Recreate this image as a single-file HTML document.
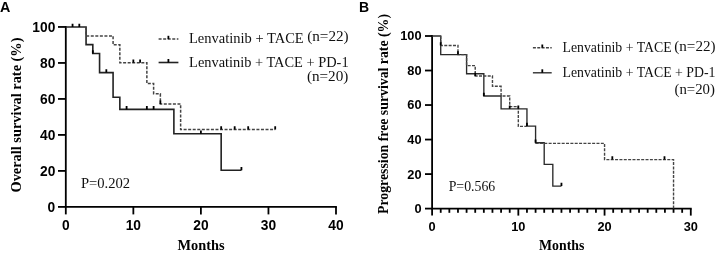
<!DOCTYPE html>
<html><head><meta charset="utf-8"><style>
html,body{margin:0;padding:0;background:#fff;}
body{width:717px;height:253px;overflow:hidden;}
svg{display:block;will-change:transform;}
.ax{stroke:#000;stroke-width:1.8;fill:none;}
.sol{stroke:#222;stroke-width:1.6;fill:none;}
.solb{stroke:#2a2a2a;stroke-width:1.35;fill:none;}
.dsh{stroke:#444;stroke-width:1.5;fill:none;stroke-dasharray:3.0 1.55;}
.dshb{stroke:#444;stroke-width:1.4;fill:none;stroke-dasharray:3.0 1.35;}
.tk{stroke:#000;stroke-width:1.8;fill:none;}
.tl{font-family:"Liberation Sans",sans-serif;font-weight:bold;font-size:13.8px;fill:#000;}
.tlb{font-family:"Liberation Sans",sans-serif;font-weight:bold;font-size:12.8px;fill:#000;}
.lg{font-family:"Liberation Serif",serif;font-size:14.4px;fill:#111;}
.lgb{font-family:"Liberation Serif",serif;font-size:13.8px;fill:#111;}
.lab{font-family:"Liberation Serif",serif;font-weight:bold;font-size:14.35px;fill:#000;}
.labb{font-family:"Liberation Serif",serif;font-weight:bold;font-size:13.8px;fill:#000;}
</style></head><body>
<svg width="717" height="253" viewBox="0 0 717 253">
<text x="-0.1" y="11.7" font-family="Liberation Sans" font-weight="bold" font-size="14.3">A</text>
<text x="358.9" y="11.7" font-family="Liberation Sans" font-weight="bold" font-size="14">B</text>
<path d="M65.8,25.95V206.9H336.90" class="ax"/>
<path d="M58.0,206.90H65.8" class="ax"/>
<text transform="translate(55.3,211.65) scale(1,1.07)" class="tl" text-anchor="end">0</text>
<path d="M58.0,170.91H65.8" class="ax"/>
<text transform="translate(55.3,175.66) scale(1,1.07)" class="tl" text-anchor="end">20</text>
<path d="M58.0,134.92H65.8" class="ax"/>
<text transform="translate(55.3,139.67) scale(1,1.07)" class="tl" text-anchor="end">40</text>
<path d="M58.0,98.93H65.8" class="ax"/>
<text transform="translate(55.3,103.68) scale(1,1.07)" class="tl" text-anchor="end">60</text>
<path d="M58.0,62.94H65.8" class="ax"/>
<text transform="translate(55.3,67.69) scale(1,1.07)" class="tl" text-anchor="end">80</text>
<path d="M58.0,26.95H65.8" class="ax"/>
<text transform="translate(55.3,31.70) scale(1,1.07)" class="tl" text-anchor="end">100</text>
<path d="M65.80,206.9V214.4" class="ax"/>
<text transform="translate(65.80,230.0) scale(1,1.07)" class="tl" text-anchor="middle">0</text>
<path d="M133.35,206.9V214.4" class="ax"/>
<text transform="translate(133.35,230.0) scale(1,1.07)" class="tl" text-anchor="middle">10</text>
<path d="M200.90,206.9V214.4" class="ax"/>
<text transform="translate(200.90,230.0) scale(1,1.07)" class="tl" text-anchor="middle">20</text>
<path d="M268.45,206.9V214.4" class="ax"/>
<text transform="translate(268.45,230.0) scale(1,1.07)" class="tl" text-anchor="middle">30</text>
<path d="M336.00,206.9V214.4" class="ax"/>
<text transform="translate(336.00,230.0) scale(1,1.07)" class="tl" text-anchor="middle">40</text>
<text transform="translate(21,115) rotate(-90)" text-anchor="middle" class="lab">Overall survival rate (%)</text>
<text x="201" y="249.6" text-anchor="middle" class="lab">Months</text>
<text x="80.9" y="188.4" class="lg" style="font-size:14.6px">P=0.202</text>
<path d="M65.80,26.95H86.06V44.60H92.82V53.50H99.57V72.60H113.08V97.20H119.84V109.40H173.88V133.80H221.17V170.20H241.43" class="sol"/>
<path d="M86.06,26.95V35.9H113.08V44.80H119.84V62.70H146.86V83.50H153.62V93.80H160.37V103.90H180.63V129.60H275.20" class="dsh"/>
<path d="M72.55,26.95V23.65M79.31,26.95V23.65M92.82,53.50V50.20M106.33,72.60V69.30M126.59,109.40V106.10M146.86,109.40V106.10M153.62,109.40V106.10M200.90,133.80V130.50M241.43,170.20V166.90M133.35,62.70V59.40M140.10,62.70V59.40M160.37,103.90V100.60M221.17,129.60V126.30M234.68,129.60V126.30M248.19,129.60V126.30M275.20,129.60V126.30" class="tk"/>
<path d="M158.6,39.1H178.4" class="dsh"/><path d="M168.4,39.1V35.8" class="tk"/>
<path d="M158.6,62.5H178.4" class="sol"/><path d="M168.4,62.5V59.0" class="tk"/>
<text x="189.0" y="43.4" class="lg" style="font-size:14.5px">Lenvatinib + TACE</text>
<text x="307.2" y="41.3" class="lg" style="font-size:15.2px">(n=22)</text>
<text x="189.1" y="66.9" class="lg">Lenvatinib + TACE + PD-1</text>
<text x="306.9" y="81.1" class="lg" style="font-size:15.2px">(n=20)</text>
<path d="M432.1,35.00V208.6H691.69" class="ax"/>
<path d="M425.0,208.60H432.1" class="ax"/>
<text transform="translate(421.6,213.05) scale(1,1.07)" class="tlb" text-anchor="end">0</text>
<path d="M425.0,174.08H432.1" class="ax"/>
<text transform="translate(421.6,178.53) scale(1,1.07)" class="tlb" text-anchor="end">20</text>
<path d="M425.0,139.56H432.1" class="ax"/>
<text transform="translate(421.6,144.01) scale(1,1.07)" class="tlb" text-anchor="end">40</text>
<path d="M425.0,105.04H432.1" class="ax"/>
<text transform="translate(421.6,109.49) scale(1,1.07)" class="tlb" text-anchor="end">60</text>
<path d="M425.0,70.52H432.1" class="ax"/>
<text transform="translate(421.6,74.97) scale(1,1.07)" class="tlb" text-anchor="end">80</text>
<path d="M425.0,36.00H432.1" class="ax"/>
<text transform="translate(421.6,40.45) scale(1,1.07)" class="tlb" text-anchor="end">100</text>
<path d="M432.10,208.6V215.6" class="ax"/>
<path d="M440.72,208.6V212.8" class="ax"/>
<path d="M449.35,208.6V212.8" class="ax"/>
<path d="M457.97,208.6V212.8" class="ax"/>
<path d="M466.59,208.6V212.8" class="ax"/>
<path d="M475.22,208.6V212.8" class="ax"/>
<path d="M483.84,208.6V212.8" class="ax"/>
<path d="M492.46,208.6V212.8" class="ax"/>
<path d="M501.08,208.6V212.8" class="ax"/>
<path d="M509.71,208.6V212.8" class="ax"/>
<path d="M518.33,208.6V215.6" class="ax"/>
<path d="M526.95,208.6V212.8" class="ax"/>
<path d="M535.58,208.6V212.8" class="ax"/>
<path d="M544.20,208.6V212.8" class="ax"/>
<path d="M552.82,208.6V212.8" class="ax"/>
<path d="M561.45,208.6V212.8" class="ax"/>
<path d="M570.07,208.6V212.8" class="ax"/>
<path d="M578.69,208.6V212.8" class="ax"/>
<path d="M587.31,208.6V212.8" class="ax"/>
<path d="M595.94,208.6V212.8" class="ax"/>
<path d="M604.56,208.6V215.6" class="ax"/>
<path d="M613.18,208.6V212.8" class="ax"/>
<path d="M621.81,208.6V212.8" class="ax"/>
<path d="M630.43,208.6V212.8" class="ax"/>
<path d="M639.05,208.6V212.8" class="ax"/>
<path d="M647.67,208.6V212.8" class="ax"/>
<path d="M656.30,208.6V212.8" class="ax"/>
<path d="M664.92,208.6V212.8" class="ax"/>
<path d="M673.54,208.6V212.8" class="ax"/>
<path d="M682.17,208.6V212.8" class="ax"/>
<path d="M690.79,208.6V215.6" class="ax"/>
<text transform="translate(432.10,230.5) scale(1,1.07)" class="tlb" text-anchor="middle">0</text>
<text transform="translate(518.33,230.5) scale(1,1.07)" class="tlb" text-anchor="middle">10</text>
<text transform="translate(604.56,230.5) scale(1,1.07)" class="tlb" text-anchor="middle">20</text>
<text transform="translate(690.79,230.5) scale(1,1.07)" class="tlb" text-anchor="middle">30</text>
<text transform="translate(388.3,114) rotate(-90)" text-anchor="middle" class="labb">Progression free survival rate (%)</text>
<text x="561.7" y="249.8" text-anchor="middle" class="labb">Months</text>
<text x="448.7" y="191.1" class="lgb">P=0.566</text>
<path d="M432.10,36.00H440.72V54.60H466.59V73.70H483.84V96.00H501.08V108.80H526.95V126.10H535.58V142.70H544.20V164.30H552.82V186.10H561.45" class="solb"/>
<path d="M440.72,36.00V45.5H457.97V54.60H466.59V65.60H475.22V76.00H492.46V86.30H501.08V96.00H509.71V106.60H518.33V126.40H526.95" class="dshb"/>
<path d="M535.58,143.40H604.56V159.60H673.54V208.60" class="dshb"/>
<path d="M483.84,96.00V92.70M509.71,108.80V105.50M518.33,108.80V105.50M561.45,186.10V182.80M440.72,45.50V42.20M457.97,54.60V51.30M475.22,76.00V72.70M526.95,126.10V122.80M535.58,142.70V139.40M612.32,159.60V156.30M664.49,159.60V156.30" class="tk"/>
<path d="M532.9,47.7H551.7" class="dshb"/><path d="M542.3,47.7V44.5" class="tk"/>
<path d="M532.9,72.8H551.7" class="solb"/><path d="M542.3,72.8V69.3" class="tk"/>
<text x="562.5" y="52.2" class="lgb" style="font-size:13.8px">Lenvatinib + TACE</text>
<text x="674.3" y="50.8" class="lgb" style="font-size:15.1px">(n=22)</text>
<text x="562.5" y="77.4" class="lgb">Lenvatinib + TACE + PD-1</text>
<text x="674.5" y="93.8" class="lgb" style="font-size:14.8px">(n=20)</text>
</svg>
</body></html>
